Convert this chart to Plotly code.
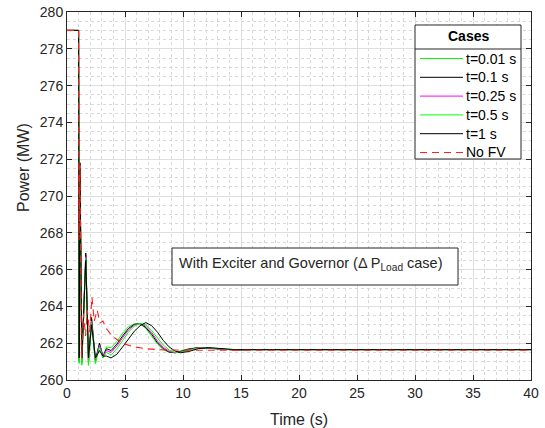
import plotly.graph_objects as go

# ---- data -------------------------------------------------------------
CASE_NAMES = ["t=0.01 s", "t=0.1 s", "t=0.25 s", "t=0.5 s", "t=1 s"]
CASE_COLORS = ["#00ff00", "#000000", "#ff00ff", "#00ff00", "#000000"]

# time instants (s) shared by the five FV cases
T_CASE = [0, 1.0, 1.05, 1.12, 1.28, 1.62, 1.85, 2.12, 2.45, 2.8, 3.1, 3.4,
          3.8, 4.3, 4.8, 5.3, 5.8, 6.3, 6.8, 7.3, 7.8, 8.3, 8.8, 9.3, 9.8,
          10.5, 11.3, 12.2, 13.2, 14.5, 16, 40]

P_T001 = [279, 279, 261.0, 271.8, 260.9, 266.8, 260.8, 263.3, 260.9, 262.0, 261.2, 261.8,
          261.75, 262.1, 262.55, 262.9, 263.05, 263.05, 262.8, 262.4, 261.95, 261.65, 261.5,
          261.5, 261.58, 261.7, 261.76, 261.72, 261.66, 261.63, 261.65, 261.65]
P_T01 = [279, 279, 261.1, 271.8, 261.1, 266.9, 261.1, 263.4, 261.1, 262.0, 261.3, 261.7,
         261.6, 261.95, 262.4, 262.8, 263.02, 263.07, 262.85, 262.48, 262.02, 261.7, 261.52,
         261.48, 261.55, 261.68, 261.76, 261.73, 261.67, 261.63, 261.65, 261.65]
P_T025 = [279, 279, 261.0, 271.7, 261.0, 266.7, 260.9, 263.2, 261.0, 261.9, 261.3, 261.6,
          261.5, 261.85, 262.3, 262.72, 262.98, 263.08, 262.92, 262.58, 262.12, 261.78, 261.56,
          261.48, 261.52, 261.65, 261.75, 261.74, 261.68, 261.63, 261.65, 261.65]
P_T05 = [279, 279, 260.9, 271.6, 260.8, 266.6, 260.8, 263.1, 260.9, 261.8, 261.2, 261.5,
         261.35, 261.7, 262.15, 262.6, 262.92, 263.08, 263.0, 262.7, 262.28, 261.9, 261.63,
         261.5, 261.5, 261.6, 261.73, 261.75, 261.69, 261.64, 261.65, 261.65]
P_T1 = [279, 279, 261.2, 271.5, 261.2, 266.5, 261.2, 263.0, 261.2, 261.6, 261.3, 261.3,
        261.2, 261.4, 261.8, 262.25, 262.65, 262.95, 263.12, 262.95, 262.6, 262.15, 261.8,
        261.58, 261.48, 261.55, 261.7, 261.76, 261.7, 261.65, 261.65, 261.65]
CASE_POWER = [P_T001, P_T01, P_T025, P_T05, P_T1]

# reference run without fast valving
T_NOFV = [0, 1.0, 1.04, 1.12, 1.25, 1.42, 1.6, 1.75, 1.95, 2.15, 2.35, 2.6, 2.85, 3.1,
          3.4, 3.8, 4.3, 5.0, 5.8, 6.8, 8.0, 9.5, 11, 40]
P_NOFV = [279, 279, 267.6, 271.6, 261.2, 263.6, 262.4, 263.8, 262.6, 264.5, 263.2, 263.8,
          263.1, 263.2, 262.8, 262.45, 262.2, 261.95, 261.8, 261.7, 261.64, 261.62, 261.62,
          261.62]
NOFV_NAME = "No FV"
NOFV_COLOR = "#ff2020"

X_RANGE = [0, 40]
Y_RANGE = [260, 280]

# ---- figure geometry ---------------------------------------------------
W, H = 545, 428
ML, MR, MT, MB = 67, 14, 12, 48
PW, PH = W - ML - MR, H - MT - MB


def px(x):
    return (x - ML) / PW


def py(y):
    return (H - MB - y) / PH


AX_COLOR = "#262626"
FONT = "Liberation Sans, Arial, sans-serif"

fig = go.Figure()
for name, color, p in zip(CASE_NAMES, CASE_COLORS, CASE_POWER):
    fig.add_trace(go.Scatter(x=T_CASE, y=p, mode="lines", name=name,
                             line=dict(color=color, width=1), showlegend=False))
fig.add_trace(go.Scatter(x=T_NOFV, y=P_NOFV, mode="lines", name=NOFV_NAME,
                         line=dict(color=NOFV_COLOR, width=1.1, dash="7px,5px"),
                         showlegend=False))

axis_common = dict(
    automargin=False,
    showline=True, linecolor=AX_COLOR, linewidth=1, mirror="ticks",
    ticks="inside", ticklen=5, tickcolor=AX_COLOR,
    showgrid=True, gridcolor="#dedede", gridwidth=1, zeroline=False,
    tickfont=dict(family=FONT, size=14, color=AX_COLOR),
)
fig.update_xaxes(range=X_RANGE, dtick=5, tick0=0,
                 minor=dict(dtick=1, showgrid=True, gridcolor="#d8d8d8",
                            griddash="dot", ticks=""),
                 title=dict(text="Time (s)", font=dict(family=FONT, size=16, color=AX_COLOR),
                            standoff=16),
                 **axis_common)
fig.update_yaxes(range=Y_RANGE, dtick=2, tick0=260,
                 minor=dict(dtick=0.5, showgrid=True, gridcolor="#d8d8d8",
                            griddash="dot", ticks=""),
                 **axis_common)

shapes = []
annotations = []

# y-axis label
annotations.append(dict(x=px(23), y=py(168), xref="paper", yref="paper",
                        xanchor="center", yanchor="middle",
                        text="Power (MW)", textangle=-90, showarrow=False,
                        font=dict(family=FONT, size=16, color=AX_COLOR)))

# annotation box
shapes.append(dict(type="rect", xref="paper", yref="paper",
                   x0=px(172), x1=px(458), y0=py(285), y1=py(248),
                   line=dict(color=AX_COLOR, width=1), fillcolor="white", layer="above"))
annotations.append(dict(x=px(177), y=py(264), xref="paper", yref="paper",
                        xanchor="left", yanchor="middle", showarrow=False,
                        text="With Exciter and Governor (Δ P<sub>Load</sub> case)",
                        font=dict(family=FONT, size=14.5, color=AX_COLOR)))

# legend box
LEG_L, LEG_R, LEG_T, LEG_B = 415, 521, 25, 159
shapes.append(dict(type="rect", xref="paper", yref="paper",
                   x0=px(LEG_L), x1=px(LEG_R), y0=py(LEG_B), y1=py(LEG_T),
                   line=dict(color=AX_COLOR, width=1), fillcolor="white", layer="above"))
shapes.append(dict(type="line", xref="paper", yref="paper",
                   x0=px(LEG_L), x1=px(LEG_R), y0=py(49), y1=py(49),
                   line=dict(color=AX_COLOR, width=1), layer="above"))
annotations.append(dict(x=px((LEG_L + LEG_R) / 2), y=py(36), xref="paper", yref="paper",
                        xanchor="center", yanchor="middle",
                        text="<b>Cases</b>", showarrow=False,
                        font=dict(family=FONT, size=14, color="#000000")))

leg_items = [(n, c, "solid", 1) for n, c in zip(CASE_NAMES, CASE_COLORS)]
leg_items.append((NOFV_NAME, NOFV_COLOR, "7px,5px", 1.1))
for i, (name, color, dash, w) in enumerate(leg_items):
    yy = 58.5 + i * 18.8
    shapes.append(dict(type="line", xref="paper", yref="paper",
                       x0=px(420), x1=px(463), y0=py(yy), y1=py(yy),
                       line=dict(color=color, width=w, dash=dash), layer="above"))
    annotations.append(dict(x=px(464), y=py(yy), xref="paper", yref="paper",
                            xanchor="left", yanchor="middle", text=name, showarrow=False,
                            font=dict(family=FONT, size=14, color="#000000")))

fig.update_layout(
    width=W, height=H,
    margin=dict(l=ML, r=MR, t=MT, b=MB, pad=0, autoexpand=False),
    paper_bgcolor="white", plot_bgcolor="white",
    shapes=shapes, annotations=annotations,
    showlegend=False,
)

fig.write_html("out.html")
